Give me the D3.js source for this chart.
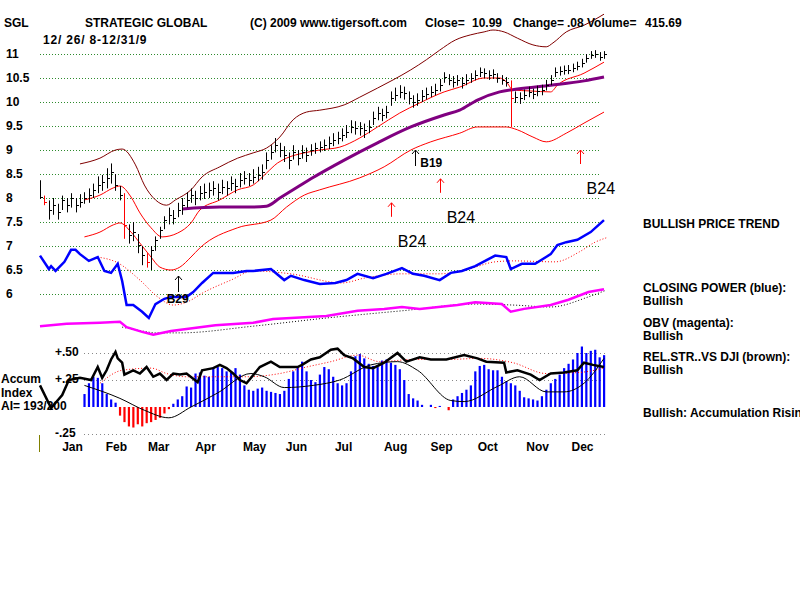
<!DOCTYPE html>
<html>
<head>
<meta charset="utf-8">
<script src="https://d3js.org/d3.v7.min.js"></script>
<style>
  body { margin:0; background:#fff; }
  svg { font-family: "Liberation Sans", Arial, sans-serif; font-weight: bold; font-size: 12px; }
  .axis path, .axis line { display: none; }
</style>
</head>
<body>
<script>
// ---- price bars, one per two trading days (day = 2*k) ----
var priceClose = [8.02,7.92,7.75,7.85,7.70,7.96,7.85,8.00,7.85,7.92,
  8.00,8.06,8.17,8.27,8.33,8.42,8.54,8.27,8.06,7.44,
  7.23,7.29,7.02,6.81,6.67,6.92,7.13,7.33,7.54,7.65,
  7.58,7.75,7.85,7.96,8.06,8.00,8.10,8.13,8.17,8.21,
  8.13,8.23,8.21,8.31,8.25,8.38,8.42,8.38,8.44,8.48,
  8.54,8.79,8.96,9.10,9.00,8.90,8.79,8.96,8.83,8.96,
  8.90,9.00,9.04,9.06,9.10,9.15,9.21,9.25,9.31,9.38,
  9.48,9.46,9.46,9.42,9.48,9.67,9.77,9.73,9.79,10.08,
  10.15,10.21,10.19,10.08,10.00,10.04,10.13,10.17,10.21,10.25,
  10.35,10.52,10.46,10.42,10.46,10.40,10.46,10.50,10.56,10.63,
  10.60,10.56,10.58,10.50,10.46,10.42,10.08,10.10,10.08,10.15,
  10.21,10.17,10.23,10.25,10.35,10.46,10.63,10.65,10.67,10.67,
  10.71,10.75,10.81,10.92,10.98,11.00,10.94,10.99];
var priceHigh = [8.37,8.05,7.95,8.00,7.88,8.05,8.00,8.10,8.00,8.08,
  8.12,8.20,8.30,8.45,8.48,8.62,8.72,8.50,8.25,8.10,
  7.45,7.50,7.25,7.00,6.85,7.00,7.20,7.40,7.62,7.80,
  7.75,7.90,8.00,8.12,8.20,8.15,8.25,8.30,8.32,8.35,
  8.30,8.38,8.35,8.45,8.40,8.52,8.56,8.52,8.60,8.65,
  8.70,8.95,9.10,9.25,9.15,9.08,8.95,9.10,9.00,9.10,
  9.05,9.12,9.15,9.18,9.22,9.28,9.35,9.38,9.45,9.52,
  9.62,9.60,9.58,9.55,9.62,9.80,9.90,9.86,9.92,10.22,
  10.30,10.35,10.32,10.22,10.14,10.18,10.25,10.30,10.33,10.38,
  10.48,10.62,10.58,10.54,10.56,10.52,10.58,10.60,10.66,10.72,
  10.70,10.66,10.68,10.60,10.56,10.52,10.45,10.22,10.20,10.26,
  10.32,10.28,10.34,10.36,10.46,10.56,10.72,10.74,10.76,10.77,
  10.80,10.84,10.90,11.00,11.06,11.08,11.04,11.06];
var priceLow = [7.98,7.85,7.55,7.65,7.55,7.75,7.70,7.80,7.70,7.80,
  7.88,7.90,8.00,8.10,8.15,8.20,8.30,8.15,7.95,7.15,
  7.05,7.10,6.85,6.60,6.55,6.50,6.90,7.15,7.35,7.45,
  7.45,7.60,7.65,7.80,7.90,7.85,7.95,7.98,8.00,8.05,
  7.95,8.08,8.05,8.15,8.10,8.22,8.28,8.25,8.30,8.35,
  8.38,8.60,8.80,8.95,8.85,8.75,8.60,8.80,8.68,8.82,
  8.75,8.88,8.92,8.95,8.98,9.02,9.08,9.12,9.18,9.25,
  9.35,9.32,9.30,9.25,9.35,9.52,9.62,9.60,9.66,9.92,
  10.02,10.08,10.05,9.95,9.88,9.92,10.00,10.05,10.10,10.14,
  10.22,10.40,10.35,10.30,10.34,10.28,10.35,10.40,10.45,10.52,
  10.50,10.46,10.48,10.40,10.36,10.32,9.48,9.98,9.96,10.04,
  10.10,10.06,10.12,10.14,10.24,10.35,10.52,10.55,10.57,10.58,
  10.62,10.66,10.72,10.82,10.90,10.92,10.86,10.90];
var redBars = [1, 19, 24, 106];

// ---- bands and moving average (trading day, price) ----
var upperDays = [18,27,34,37,43,47,52,57,61,68,73,81,89,96,102,108,114,120,126,137,144,152,159,167,174,180,187,194,200,204,209,215,222,228,231,237,245,254];
var upperVals = [8.71,8.83,9.0,9.02,8.69,8.27,7.96,7.85,7.96,8.17,8.44,8.65,8.83,8.94,9.04,9.27,9.63,9.79,9.83,9.94,10.1,10.29,10.46,10.67,10.88,11.08,11.29,11.4,11.46,11.5,11.46,11.33,11.19,11.15,11.23,11.46,11.6,11.83];
var midDays = [20,27,33,36,41,45,50,55,62,68,72,81,89,96,102,107,111,119,126,135,144,152,162,171,182,189,200,207,210,213,221,230,233,245,254];
var midVals = [7.96,8.06,8.21,8.25,8.02,7.69,7.38,7.19,7.27,7.48,7.75,7.96,8.17,8.27,8.52,8.73,8.83,8.94,9.0,9.06,9.25,9.48,9.77,9.98,10.21,10.31,10.5,10.5,10.42,10.25,10.23,10.21,10.35,10.6,10.83];
var lowerDays = [20,27,33,36,41,45,50,54,59,63,68,72,89,104,111,119,126,144,155,167,176,189,197,210,215,222,228,237,245,254];
var lowerVals = [7.19,7.29,7.44,7.48,7.29,7.06,6.77,6.56,6.5,6.56,6.77,6.96,7.38,7.54,7.81,8.06,8.17,8.42,8.65,9.0,9.17,9.35,9.48,9.48,9.42,9.27,9.17,9.35,9.56,9.79];
var maDays = [64,81,93,102,108,116,122,137,152,167,182,189,197,207,215,230,245,254];
var maVals = [7.77,7.81,7.81,7.83,8.0,8.23,8.4,8.79,9.15,9.48,9.73,9.83,10.04,10.21,10.27,10.35,10.44,10.52];

// ---- closing power (blue) and OBV (magenta), drawn on the price scale ----
var cpDays = [0,4,5,7,11,14,16,18,22,26,29,32,35,37,39,42,46,49,52,56,59,66,69,73,78,82,87,93,96,104,110,113,119,126,133,138,143,150,156,163,168,173,180,185,190,196,205,210,212,217,223,230,233,237,242,248,254];
var cpVals = [6.80,6.52,6.58,6.48,6.67,6.92,6.92,6.83,6.69,6.77,6.48,6.44,6.63,6.27,5.77,5.77,5.63,5.5,5.79,5.9,5.94,5.94,6.04,6.23,6.44,6.44,6.44,6.48,6.48,6.52,6.29,6.38,6.29,6.21,6.23,6.29,6.42,6.33,6.42,6.54,6.42,6.38,6.29,6.44,6.48,6.58,6.80,6.77,6.52,6.63,6.63,6.83,7.02,7.08,7.13,7.29,7.54];
var cpMaDays = [26,35,45,53,60,66,74,86,96,113,136,146,163,180,193,205,213,232,243,250,255];
var cpMaVals = [6.77,6.65,6.29,5.94,5.77,5.83,6.04,6.29,6.48,6.42,6.23,6.33,6.42,6.42,6.52,6.67,6.69,6.67,6.88,7.08,7.17];
var obvDays = [0,12,27,36,39,46,51,59,79,96,105,129,143,155,163,171,188,196,208,212,218,230,238,247,254];
var obvVals = [5.33,5.38,5.4,5.42,5.31,5.21,5.15,5.23,5.35,5.4,5.48,5.54,5.65,5.69,5.73,5.69,5.77,5.83,5.79,5.63,5.69,5.77,5.88,6.04,6.10];
var obvMaDays = [37,46,52,63,96,129,163,196,213,230,247,255];
var obvMaVals = [5.31,5.23,5.19,5.19,5.33,5.5,5.65,5.79,5.77,5.73,5.94,6.08];

// ---- accumulation index panel ----
var accumFirstDay = 20; // then every second day
var accumVals = [0.12,0.22,0.28,0.27,0.22,0.12,0.07,0.04,-0.08,-0.14,
  -0.18,-0.19,-0.16,-0.18,-0.15,-0.14,-0.12,-0.10,-0.06,-0.02,
  0.03,0.07,0.10,0.19,0.18,0.31,0.32,0.29,0.28,0.37,
  0.37,0.36,0.33,0.32,0.36,0.30,0.20,0.16,0.15,0.17,
  0.18,0.15,0.14,0.13,0.12,0.15,0.26,0.33,0.37,0.42,
  0.33,0.25,0.23,0.30,0.37,0.35,0.28,0.22,0.20,0.22,
  0.33,0.47,0.49,0.45,0.40,0.38,0.37,0.43,0.44,0.41,
  0.39,0.35,0.25,0.12,0.08,0.06,0.02,0.00,0.02,-0.01,
  0.01,0.00,-0.03,0.07,0.10,0.13,0.16,0.20,0.33,0.38,
  0.39,0.35,0.34,0.34,0.28,0.24,0.22,0.20,0.15,0.09,
  0.08,0.07,0.06,0.10,0.16,0.22,0.26,0.30,0.36,0.40,
  0.44,0.50,0.56,0.50,0.52,0.53,0.46,0.48];
var rsDays = [0,5,10,13,18,23,26,28,30,32,34,35,37,38,42,45,48,51,54,57,60,63,66,71,73,78,81,84,87,90,93,99,104,108,116,118,122,126,131,134,137,141,146,150,155,161,165,171,176,183,191,197,201,209,210,215,221,225,230,236,242,245,249,254];
var rsVals = [0.20,-0.01,0.11,0.25,0.27,0.25,0.37,0.27,0.34,0.44,0.51,0.45,0.41,0.30,0.34,0.31,0.37,0.28,0.31,0.25,0.31,0.30,0.31,0.23,0.34,0.36,0.39,0.36,0.31,0.25,0.22,0.37,0.42,0.37,0.37,0.39,0.44,0.46,0.53,0.54,0.48,0.45,0.37,0.36,0.41,0.50,0.42,0.46,0.44,0.44,0.48,0.45,0.42,0.41,0.32,0.34,0.30,0.25,0.31,0.32,0.34,0.41,0.39,0.37];
var aiMaDays = [20,36,47,58,68,80,95,101,110,123,135,149,161,170,185,191,206,216,228,236,245,254];
var aiMaVals = [0.20,0.08,-0.03,-0.10,0.0,0.13,0.31,0.28,0.18,0.20,0.25,0.39,0.42,0.34,0.06,0.05,0.19,0.28,0.14,0.14,0.22,0.45];
var rsMaDays = [27,37,50,57,66,93,108,120,131,143,153,168,183,198,213,228,243,254];
var rsMaVals = [0.22,0.34,0.36,0.31,0.28,0.28,0.31,0.37,0.42,0.48,0.42,0.44,0.44,0.45,0.41,0.31,0.32,0.36];

// ---- signals ----
var buyLabels = ["B29", "B19"];
var buyDays = [62, 169];
var buyTips = [6.375, 9.0];
var b24Days = [158, 180, 243];
var b24Tips = [7.9, 8.4, 9.0];

// ---- axes labels ----
var priceTicks = [11, 10.5, 10, 9.5, 9, 8.5, 8, 7.5, 7, 6.5, 6];
var priceTickLabels = ["11", "10.5", "10", "9.5", "9", "8.5", "8", "7.5", "7", "6.5", "6"];
var aiTicks = [0.5, 0.25, -0.25];
var aiTickLabels = ["+.50", "+.25", "-.25"];
var monthNames = ["Jan","Feb","Mar","Apr","May","Jun","Jul","Aug","Sep","Oct","Nov","Dec"];
var monthMid = [14.4, 34.2, 53.2, 74.3, 96.4, 115.3, 136.5, 159.9, 180.6, 201.4, 223.9, 244.1];

var svg = d3.select("body").append("svg")
  .attr("width", 800).attr("height", 600);
svg.append("rect").attr("width", 800).attr("height", 600).attr("fill", "#fff");

var x = d3.scaleLinear().domain([0, 254]).range([40, 604]);
var y = d3.scaleLinear().domain([6, 11]).range([294, 54]);
var ai = d3.scaleLinear().domain([-0.25, 0.5]).range([434, 353]);

// grid
svg.selectAll(".pgrid").data(priceTicks).enter().append("line")
  .attr("x1", 40).attr("x2", 600)
  .attr("y1", d => Math.round(y(d)) + 0.5).attr("y2", d => Math.round(y(d)) + 0.5)
  .attr("stroke", "#2e8b2e").attr("stroke-dasharray", "1,2");
svg.selectAll(".agrid").data(aiTicks).enter().append("line")
  .attr("x1", 84).attr("x2", 607)
  .attr("y1", d => Math.round(ai(d)) + 0.5).attr("y2", d => Math.round(ai(d)) + 0.5)
  .attr("stroke", "#888").attr("stroke-dasharray", "1,3");

function styleAxis(g) {
  g.attr("font-size", 12).attr("font-weight", "bold")
   .attr("font-family", "Liberation Sans, Arial, sans-serif");
}

svg.append("g").attr("class", "axis").attr("transform", "translate(6,0)")
  .call(d3.axisRight(y).tickValues(priceTicks).tickSize(0).tickPadding(0)
    .tickFormat((d, i) => priceTickLabels[i]))
  .call(styleAxis);
svg.append("g").attr("class", "axis").attr("transform", "translate(55,-1)")
  .call(d3.axisRight(ai).tickValues(aiTicks).tickSize(0).tickPadding(0)
    .tickFormat((d, i) => aiTickLabels[i]))
  .call(styleAxis);
svg.append("g").attr("class", "axis").attr("transform", "translate(0,442)")
  .call(d3.axisBottom(x).tickValues(monthMid).tickSize(0).tickPadding(0)
    .tickFormat((d, i) => monthNames[i]))
  .call(styleAxis);

function pairs(days, vals) { return d3.zip(days, vals); }
var priceLine = d3.line().x(d => x(d[0])).y(d => y(d[1]));
var smoothLine = d3.line().x(d => x(d[0])).y(d => y(d[1])).curve(d3.curveMonotoneX);
var aiLine = d3.line().x(d => x(d[0])).y(d => ai(d[1]));
var aiSmooth = d3.line().x(d => x(d[0])).y(d => ai(d[1])).curve(d3.curveMonotoneX);

// accumulation bars
accumVals.forEach(function (v, i) {
  var xx = x(accumFirstDay + 2 * i);
  svg.append("rect")
    .attr("x", xx - 1).attr("width", 2.2)
    .attr("y", Math.min(ai(v), ai(0))).attr("height", Math.abs(ai(v) - ai(0)))
    .attr("fill", v >= 0 ? "#0000ff" : "#ff0000");
});

// lower panel lines
svg.append("path").attr("d", aiSmooth(pairs(rsMaDays, rsMaVals)))
  .attr("fill", "none").attr("stroke", "#ff0000").attr("stroke-dasharray", "1,2");
svg.append("path").attr("d", aiSmooth(pairs(aiMaDays, aiMaVals)))
  .attr("fill", "none").attr("stroke", "#000").attr("stroke-width", 1);
svg.append("path").attr("d", aiLine(pairs(rsDays, rsVals)))
  .attr("fill", "none").attr("stroke", "#000").attr("stroke-width", 2.5);

// indicator lines in price panel
svg.append("path").attr("d", smoothLine(pairs(obvMaDays, obvMaVals)))
  .attr("fill", "none").attr("stroke", "#000").attr("stroke-dasharray", "1,2");
svg.append("path").attr("d", priceLine(pairs(obvDays, obvVals)))
  .attr("fill", "none").attr("stroke", "#ff00ff").attr("stroke-width", 2.5);
svg.append("path").attr("d", smoothLine(pairs(cpMaDays, cpMaVals)))
  .attr("fill", "none").attr("stroke", "#ff0000").attr("stroke-dasharray", "1,2");
svg.append("path").attr("d", priceLine(pairs(cpDays, cpVals)))
  .attr("fill", "none").attr("stroke", "#0000ff").attr("stroke-width", 2.5);

// bands
svg.append("path").attr("d", smoothLine(pairs(upperDays, upperVals)))
  .attr("fill", "none").attr("stroke", "#800000");
svg.append("path").attr("d", smoothLine(pairs(midDays, midVals)))
  .attr("fill", "none").attr("stroke", "#ff0000");
svg.append("path").attr("d", smoothLine(pairs(lowerDays, lowerVals)))
  .attr("fill", "none").attr("stroke", "#ff0000");
svg.append("path").attr("d", smoothLine(pairs(maDays, maVals)))
  .attr("fill", "none").attr("stroke", "#800080").attr("stroke-width", 3);

// price bars
priceClose.forEach(function (c, k) {
  var xx = Math.round(x(2 * k)) + 0.5;
  var col = redBars.indexOf(k) >= 0 ? "#ff0000" : "#000";
  svg.append("line").attr("x1", xx).attr("x2", xx)
    .attr("y1", y(priceHigh[k])).attr("y2", y(priceLow[k])).attr("stroke", col);
  svg.append("line").attr("x1", xx).attr("x2", xx + 2.5)
    .attr("y1", Math.round(y(c)) + 0.5).attr("y2", Math.round(y(c)) + 0.5).attr("stroke", col);
});

// arrows
function arrow(cx, tipY, len, col) {
  cx = Math.round(cx) + 0.5;
  svg.append("path")
    .attr("d", "M" + cx + "," + (tipY + len) + "V" + tipY +
      "M" + (cx - 3.5) + "," + (tipY + 4) + "L" + cx + "," + tipY + "L" + (cx + 3.5) + "," + (tipY + 4))
    .attr("fill", "none").attr("stroke", col).attr("stroke-width", 1);
}
buyDays.forEach(function (d, i) {
  var ty = y(buyTips[i]);
  arrow(x(d), ty, 16, "#000");
  if (i === 0) {
    svg.append("text").attr("x", x(d)).attr("y", ty + 27).attr("text-anchor", "middle").text(buyLabels[i]);
  } else {
    svg.append("text").attr("x", x(d) + 5).attr("y", ty + 17).text(buyLabels[i]);
  }
});
b24Days.forEach(function (d, i) {
  var ty = y(b24Tips[i]);
  arrow(x(d), ty, 14, "#ff0000");
  svg.append("text").attr("x", x(d) + 7).attr("y", ty + 44)
    .attr("font-weight", "normal").attr("font-size", 16).text("B24");
});

// header
function txt(s, xx, yy) {
  return svg.append("text").attr("x", xx).attr("y", yy).style("white-space", "pre").text(s);
}
txt("SGL", 4, 27);
txt("STRATEGIC GLOBAL", 85, 27);
txt("(C) 2009 www.tigersoft.com", 250, 27);
txt("Close=", 425, 27);
txt("10.99", 472, 27);
txt("Change=", 513, 27);
txt(".08", 567, 27);
txt("Volume=", 587, 27);
txt("415.69", 645, 27);
txt("12/ 26/ 8-12/31/9", 43, 44).attr("letter-spacing", 0.8);

// right legend
txt("BULLISH PRICE TREND", 643, 228);
txt("CLOSING POWER (blue):", 643, 292);
txt("Bullish", 643, 305);
txt("OBV (magenta):", 643, 327);
txt("Bullish", 643, 340);
txt("REL.STR..VS DJI (brown):", 643, 361);
txt("Bullish", 643, 374);
txt("Bullish: Accumulation Rising", 643, 417);

// left panel label
txt("Accum", 1, 383);
txt("Index", 1, 397);
txt("AI= 193/200", 1, 410);

svg.append("line").attr("x1", 39.5).attr("x2", 39.5).attr("y1", 435).attr("y2", 452)
  .attr("stroke", "#808000");
</script>
</body>
</html>
